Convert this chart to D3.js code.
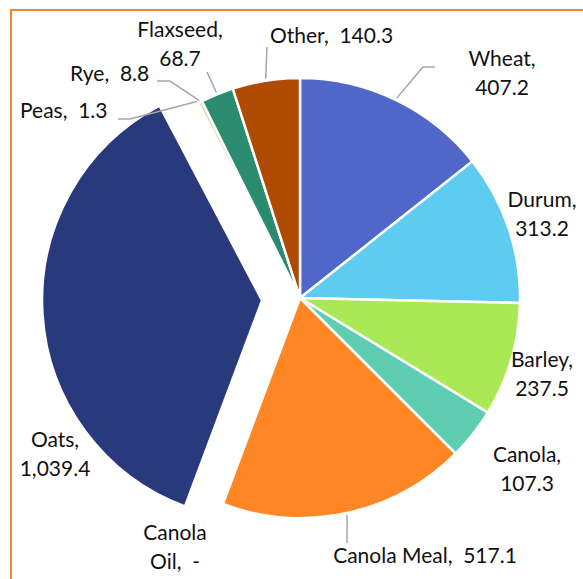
<!DOCTYPE html>
<meta charset="utf-8">
<style>
body { margin: 0; background: #fff; }
text { font-family: Lato, "Open Sans", sans-serif; font-size: 21px; fill: #111; white-space: pre; }
.leader { fill: none; stroke: #a6a6a6; stroke-width: 1.5; }
</style>
<body>
<svg width="583" height="579"></svg>
<script src="https://cdn.jsdelivr.net/npm/d3@7"></script>
<script>

var categories = ["Wheat", "Durum", "Barley", "Canola", "Canola Meal", "Canola Oil", "Oats", "Peas", "Rye", "Flaxseed", "Other"];
var values = [407.2, 313.2, 237.5, 107.3, 517.1, 0, 1039.4, 1.3, 8.8, 68.7, 140.3];
var colors = ["#4f67c9", "#5ecbf1", "#a9e955", "#5ecdb2", "#fe8624", "#7f7f7f", "#283a7c", "#c9e6b5", "#c9e6a0", "#2a8b6e", "#ae4b00"];

var exploded = "Oats";

// manual label placement (like the spreadsheet's dragged labels)
// lines: how the label is split, x/y: text anchor for first line, leader: extra points
var labelLayout = {
  "Wheat":       { x: 502, y: 66,  split: true,  anchor: "middle", leader: [[423, 67], [435, 67]] },
  "Durum":       { x: 542, y: 207, split: true,  anchor: "middle" },
  "Barley":      { x: 542, y: 367, split: true,  anchor: "middle" },
  "Canola":      { x: 527, y: 462, split: true,  anchor: "middle" },
  "Canola Meal": { x: 425, y: 563, split: false, anchor: "middle", leader: [[347, 543]] },
  "Canola Oil":  { x: 175, y: 540, split: "Canola|Oil,  -", anchor: "middle" },
  "Oats":        { x: 55,  y: 447, split: true,  anchor: "middle" },
  "Peas":        { x: 20,  y: 118, split: false, anchor: "start", leader: [[130, 119], [118, 119]] },
  "Rye":         { x: 70,  y: 81,  split: false, anchor: "start", leader: [[170, 81], [157, 81]] },
  "Flaxseed":    { x: 180, y: 37,  split: true,  anchor: "middle", leader: [[207, 72]] },
  "Other":       { x: 270, y: 43,  split: false, anchor: "start", leader: [[267, 47]] }
};

var fmt = d3.format(",.1f");
function valueText(v) { return v === 0 ? "-" : fmt(v); }

var svg = d3.select("svg");
var cx = 300, cy = 298, r = 220, explodeBy = 38;

// frame of the chart area
svg.append("rect")
    .attr("x", 11).attr("y", 10)
    .attr("width", 600).attr("height", 600)
    .attr("fill", "none")
    .attr("stroke", "#f08534")
    .attr("stroke-width", 2);

var pie = d3.pie().sort(null).value(function(d) { return d.value; });
var arc = d3.arc().innerRadius(0).outerRadius(r);

var data = categories.map(function(c, i) { return { name: c, value: values[i], color: colors[i] }; });
var arcs = pie(data);

function offset(d) {
  if (d.data.name !== exploded) return [0, 0];
  var a = (d.startAngle + d.endAngle) / 2;
  return [Math.sin(a) * explodeBy, -Math.cos(a) * explodeBy];
}

var g = svg.append("g").attr("transform", "translate(" + cx + "," + cy + ")");

g.selectAll("path.slice")
  .data(arcs.filter(function(d) { return d.value > 0; }))
  .enter().append("path")
    .attr("class", "slice")
    .attr("d", arc)
    .attr("transform", function(d) { var o = offset(d); return "translate(" + o[0] + "," + o[1] + ")"; })
    .attr("fill", function(d) { return d.data.color; })
    .attr("stroke", "#fff")
    .attr("stroke-width", 2.5)
    .attr("stroke-linejoin", "miter");

// leader lines: from the slice edge to the label
arcs.forEach(function(d) {
  var L = labelLayout[d.data.name];
  if (!L.leader) return;
  var a = (d.startAngle + d.endAngle) / 2;
  var o = offset(d);
  var start = [cx + o[0] + Math.sin(a) * (r + 2), cy + o[1] - Math.cos(a) * (r + 2)];
  var pts = [start].concat(L.leader);
  svg.append("path")
      .attr("class", "leader")
      .attr("d", d3.line()(pts));
});

// labels
arcs.forEach(function(d) {
  var L = labelLayout[d.data.name];
  var lines;
  if (typeof L.split === "string") lines = L.split.split("|");
  else if (L.split) lines = [d.data.name + ",", valueText(d.data.value)];
  else lines = [d.data.name + ",  " + valueText(d.data.value)];
  var t = svg.append("text")
      .attr("x", L.x).attr("y", L.y)
      .attr("text-anchor", L.anchor);
  lines.forEach(function(s, i) {
    t.append("tspan").attr("x", L.x).attr("y", L.y + i * 29).text(s);
  });
});

</script>
</body>
